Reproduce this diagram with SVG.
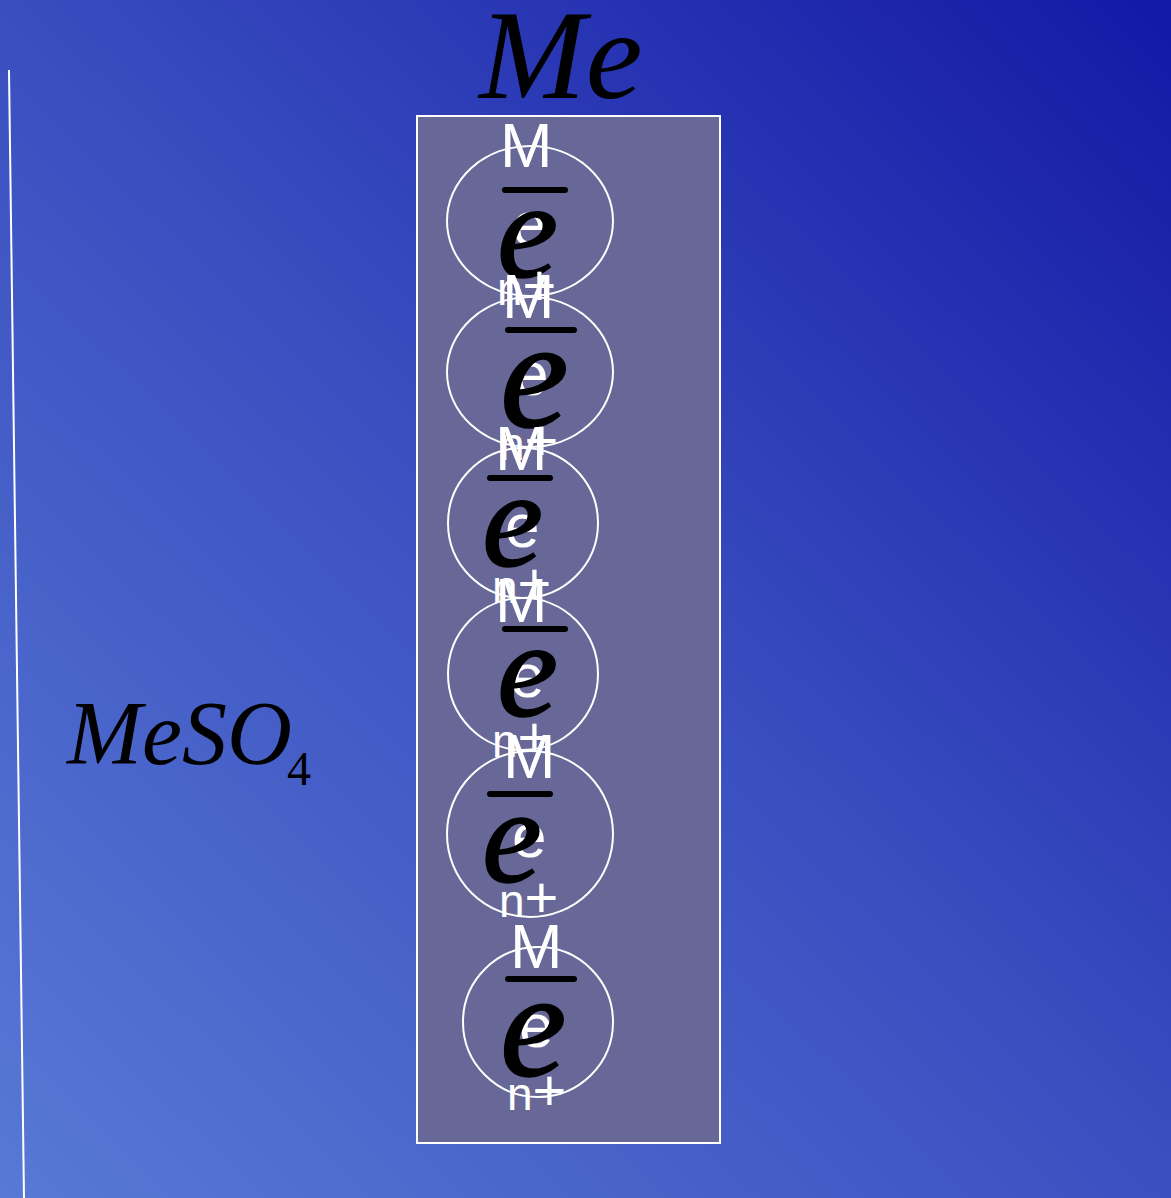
<svg xmlns="http://www.w3.org/2000/svg" width="1171" height="1198" viewBox="0 0 1171 1198">
<defs>
<linearGradient id="bg" x1="1171" y1="0" x2="0" y2="1198" gradientUnits="userSpaceOnUse">
<stop offset="0" stop-color="#1318a5"/>
<stop offset="0.5" stop-color="#3a4fc0"/>
<stop offset="1" stop-color="#5879d5"/>
</linearGradient>
<style>
.ring{fill:none;stroke:#ffffff;stroke-width:2}
.w{fill:#ffffff;font-family:"Liberation Sans",Arial,sans-serif}
.wm{font-size:63px}
.we{font-size:62px}
.wn{font-size:46px}
.pl{font-size:58px}
.bar{stroke:#000000;stroke-width:6;stroke-linecap:round}
.be{fill:#000000;stroke:#000000;stroke-width:1.5;font-family:"Liberation Serif","Times New Roman",serif;font-style:italic}
.title{fill:#000000;font-family:"Liberation Serif","Times New Roman",serif;font-style:italic}
</style>
</defs>
<rect x="0" y="0" width="1171" height="1198" fill="url(#bg)"/>
<line x1="9" y1="70" x2="24" y2="1198" stroke="#ffffff" stroke-width="2"/>
<g id="title-me"><text class="title" x="479" y="98" font-size="128">Me</text></g>
<g id="label-meso4"><text class="title" x="67" y="764" font-size="90">MeSO</text><text x="287" y="785" font-size="48" font-family="Liberation Serif, Times New Roman, serif" fill="#000000">4</text></g>
<g id="electrode"><rect x="417" y="116" width="303" height="1027" fill="#676898" stroke="#ffffff" stroke-width="2"/></g>

<g id="ion1">
<ellipse class="ring" cx="530" cy="221" rx="83" ry="75"/>
<text class="w wm" x="500" y="167">M</text>
<line class="bar" x1="505" y1="190" x2="565" y2="190"/>
<text class="w we" x="512" y="245">e</text>
<text class="be" x="497" y="277" font-size="138">e</text>
<text class="w wn" x="497" y="305">n<tspan class="pl">+</tspan></text>
</g>
<g id="ion2">
<ellipse class="ring" cx="530" cy="372" rx="83" ry="75"/>
<text class="w wm" x="502" y="318">M</text>
<line class="bar" x1="508" y1="330" x2="574" y2="330"/>
<text class="w we" x="514" y="395">e</text>
<text class="be" x="500" y="426" font-size="155">e</text>
<text class="w wn" x="499" y="460">n<tspan class="pl">+</tspan></text>
</g>
<g id="ion3">
<ellipse class="ring" cx="523" cy="523" rx="75" ry="75"/>
<text class="w wm" x="495" y="470">M</text>
<line class="bar" x1="490" y1="478" x2="550" y2="478"/>
<text class="w we" x="505" y="547">e</text>
<text class="be" x="482" y="566" font-size="138">e</text>
<text class="w wn" x="492" y="603">n<tspan class="pl">+</tspan></text>
</g>
<g id="ion4">
<ellipse class="ring" cx="523" cy="674" rx="75" ry="76"/>
<text class="w wm" x="495" y="622">M</text>
<line class="bar" x1="505" y1="629" x2="565" y2="629"/>
<text class="w we" x="510" y="697">e</text>
<text class="be" x="497" y="716" font-size="138">e</text>
<text class="w wn" x="492" y="757">n<tspan class="pl">+</tspan></text>
</g>
<g id="ion5">
<ellipse class="ring" cx="530" cy="834" rx="83" ry="83"/>
<text class="w wm" x="503" y="778">M</text>
<line class="bar" x1="490" y1="794" x2="550" y2="794"/>
<text class="w we" x="512" y="857">e</text>
<text class="be" x="482" y="882" font-size="135">e</text>
<text class="w wn" x="499" y="917">n<tspan class="pl">+</tspan></text>
</g>
<g id="ion6">
<ellipse class="ring" cx="538" cy="1022" rx="75" ry="75"/>
<text class="w wm" x="510" y="968">M</text>
<line class="bar" x1="508" y1="979" x2="574" y2="979"/>
<text class="w we" x="519" y="1047">e</text>
<text class="be" x="500" y="1076" font-size="150">e</text>
<text class="w wn" x="507" y="1110">n<tspan class="pl">+</tspan></text>
</g>
</svg>
